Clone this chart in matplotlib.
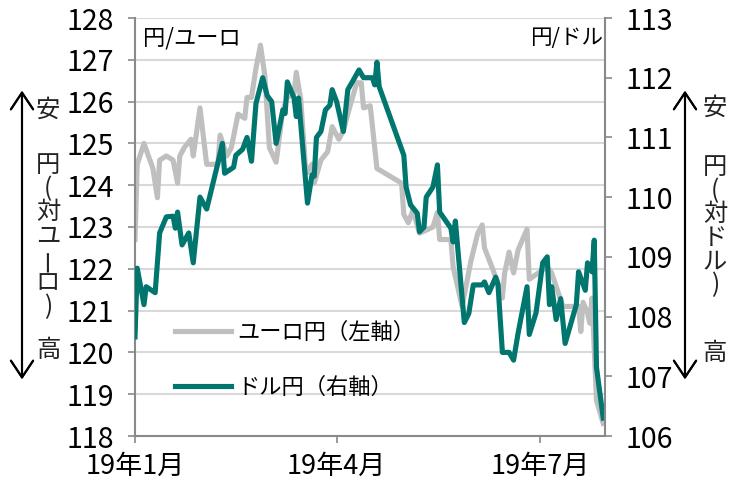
import pandas as pd
import matplotlib
matplotlib.use("Agg")
import matplotlib.pyplot as plt
import matplotlib.dates as mdates

plt.rcParams['font.family'] = ['Liberation Sans Narrow', 'Noto Sans CJK JP', 'DejaVu Sans']

# ユーロ円 (left axis)
eur_dates = ['01-01', '01-02', '01-05', '01-09', '01-11', '01-12', '01-15', '01-18', '01-20', '01-21',
             '01-23', '01-26', '01-27', '01-30', '02-02', '02-07', '02-08', '02-11', '02-13', '02-16',
             '02-19', '02-20', '02-22', '02-24', '02-26', '02-28', '03-02', '03-05', '03-08', '03-10',
             '03-13', '03-14', '03-16', '03-18', '03-19', '03-21', '03-22', '03-25', '03-28', '03-30',
             '04-02', '04-04', '04-07', '04-10', '04-12', '04-13', '04-16', '04-19', '04-30', '05-01',
             '05-03', '05-05', '05-08', '05-10', '05-14', '05-16', '05-17', '05-22', '05-23', '05-27',
             '05-29', '05-31', '06-03', '06-05', '06-06', '06-10', '06-14', '06-15', '06-17', '06-19',
             '06-21', '06-25', '06-26', '07-04', '07-06', '07-11', '07-18', '07-19', '07-20', '07-22',
             '07-23', '07-24', '07-26', '07-29']
eur_vals = [122.7, 124.5, 125.0, 124.4, 123.7, 124.6, 124.7, 124.6, 124.05, 124.7,
            124.9, 125.1, 124.7, 125.85, 124.5, 124.5, 125.2, 124.7, 124.9, 125.7,
            125.6, 126.1, 126.1, 126.8, 127.35, 126.6, 124.9, 124.55, 125.8, 126.1,
            126.2, 126.7, 126.05, 124.5, 124.3, 124.5, 124.05, 124.6, 124.8, 125.4,
            125.1, 125.3, 125.9, 126.45, 126.45, 125.85, 125.9, 124.4, 124.05, 123.3,
            123.1, 123.4, 122.85, 122.9, 123.0, 123.35, 122.7, 122.7, 122.05, 121.1,
            121.65, 122.2, 122.85, 123.05, 122.5, 121.95, 121.3, 121.9, 122.4, 121.9,
            122.45, 122.95, 121.75, 122.05, 121.9, 121.1, 121.1, 120.5, 121.2, 120.95,
            120.7, 121.3, 118.85, 118.3]

# ドル円 (right axis)
usd_dates = ['01-01', '01-02', '01-05', '01-06', '01-10', '01-12', '01-15', '01-18', '01-19', '01-20',
             '01-22', '01-25', '01-27', '01-30', '02-02', '02-07', '02-09', '02-10', '02-14', '02-15',
             '02-18', '02-20', '02-22', '02-24', '02-27', '03-01', '03-03', '03-05', '03-08', '03-09',
             '03-10', '03-13', '03-14', '03-15', '03-19', '03-21', '03-22', '03-23', '03-25', '03-27',
             '03-29', '03-30', '04-01', '04-04', '04-06', '04-08', '04-11', '04-13', '04-17', '04-18',
             '04-19', '04-20', '05-01', '05-02', '05-04', '05-07', '05-08', '05-10', '05-11', '05-14',
             '05-16', '05-17', '05-22', '05-23', '05-24', '05-28', '05-30', '06-01', '06-05', '06-06',
             '06-08', '06-11', '06-12', '06-14', '06-17', '06-19', '06-21', '06-25', '06-26', '06-29',
             '07-02', '07-04', '07-05', '07-06', '07-08', '07-10', '07-12', '07-17', '07-18', '07-21',
             '07-22', '07-24', '07-25', '07-26', '07-29']
usd_vals = [107.66, 108.81, 108.2, 108.5, 108.4, 109.4, 109.67, 109.68, 109.48, 109.75,
            109.2, 109.4, 108.9, 110.0, 109.8, 110.57, 110.9, 110.4, 110.5, 110.7,
            110.8, 111.0, 110.6, 111.57, 112.0, 111.7, 111.6, 110.9, 111.46, 111.4,
            111.93, 111.66, 111.35, 111.66, 109.9, 110.37, 110.35, 111.0, 111.1, 111.46,
            111.54, 111.8, 111.6, 111.1, 111.8, 111.93, 112.13, 112.0, 112.0, 111.88,
            112.26, 111.85, 110.7, 110.17, 109.87, 109.73, 109.42, 109.5, 110.0, 110.17,
            110.54, 109.75, 109.48, 109.25, 109.6, 107.9, 108.05, 108.53, 108.53, 108.58,
            108.4, 108.66, 108.55, 107.4, 107.4, 107.27, 107.72, 108.5, 107.7, 108.06,
            108.9, 109.0, 108.2, 108.5, 107.95, 108.3, 107.55, 108.2, 108.75, 108.44,
            108.9, 108.75, 109.28, 107.15, 106.3]

xtick_dates = ['2019-01-01', '2019-04-01', '2019-07-01']
xtick_labels = ['19年1月', '19年4月', '19年7月']

eur_x = pd.to_datetime(['2019-' + d for d in eur_dates])
usd_x = pd.to_datetime(['2019-' + d for d in usd_dates])

gray = '#bfbfbf'
teal = '#00766f'
axis_col = '#898989'

fig = plt.figure(figsize=(7.39, 4.82), dpi=100)
ax = fig.add_axes([135 / 739, 46 / 482, 470 / 739, 418 / 482])
ax2 = ax.twinx()

l1, = ax.plot(eur_x, eur_vals, color=gray, lw=3.7, solid_joinstyle='round')
l2, = ax2.plot(usd_x, usd_vals, color=teal, lw=3.7, solid_joinstyle='round')

x0 = mdates.date2num(pd.Timestamp('2019-01-01'))
ax.set_xlim(x0, x0 + 209.8)
ax.set_ylim(118, 128)
ax2.set_ylim(106, 113)
ax.set_yticks(range(118, 129))
ax2.set_yticks(range(106, 114))
ax.set_xticks(pd.to_datetime(xtick_dates))
ax.set_xticklabels(xtick_labels)

ax.yaxis.grid(True, color='#d9d9d9', lw=1.5)
ax.set_axisbelow(True)

for a in (ax, ax2):
    a.spines['top'].set_visible(False)
    for s in a.spines.values():
        s.set_color(axis_col)
        s.set_linewidth(1.5)
ax.spines['right'].set_visible(False)
ax2.spines['left'].set_visible(False)
ax2.spines['bottom'].set_visible(False)

ax.tick_params(axis='y', length=5, width=1.2, color=axis_col, labelsize=20.5, pad=10)
ax2.tick_params(axis='y', length=5, width=1.2, color=axis_col, labelsize=20.5, pad=10)
ax.tick_params(axis='x', length=5, width=1.2, color=axis_col, labelsize=19.5, pad=7)

ax.text(0.017, 0.952, '円/ユーロ', transform=ax.transAxes, fontsize=16, ha='left', va='center')
ax.text(0.996, 0.952, '円/ドル', transform=ax.transAxes, fontsize=15.5, ha='right', va='center')

ax2.legend([l1, l2], ['ユーロ円（左軸）', 'ドル円（右軸）'], loc='lower left',
           bbox_to_anchor=(0.085, 0.09), frameon=False, fontsize=16,
           handlelength=2.5, handletextpad=0.3, labelspacing=1.4,
           borderpad=0, borderaxespad=0)

# vertical side labels with arrows
arrow_style = '<->,head_length=0.6,head_width=0.4'
for xp in (22, 685):
    fig.add_artist(plt.annotate('', xy=(xp, 482 - 88), xytext=(xp, 482 - 382),
                                xycoords='figure pixels', textcoords='figure pixels',
                                arrowprops=dict(arrowstyle=arrow_style, lw=1.5, color='black',
                                                mutation_scale=20)))

side_fs = 17.5
side_col = '#222222'


def side_label(xp, chars, yc, top_y, bottom_y):
    fig.text(xp / 739, 1 - top_y / 482, '安', fontsize=side_fs, ha='center', va='center', color=side_col)
    fig.text(xp / 739, 1 - bottom_y / 482, '高', fontsize=side_fs, ha='center', va='center', color=side_col)
    t = fig.text(xp / 739, 1 - yc / 482, '\n'.join(chars), fontsize=side_fs, ha='center', va='center',
                 multialignment='center', linespacing=0.88, color=side_col)
    return t


side_label(48, ['円', '(', '対', 'ユ', '　', 'ロ', ')'], 236, 110, 350)
side_label(715, ['円', '(', '対', 'ド', 'ル', ')'], 226, 108, 353)

# the long-vowel mark of ユーロ stands upright in vertical writing
fig.canvas.draw()
lt = fig.texts[2]
bb = lt.get_window_extent()
n_lines = 7
y_bar = bb.y1 - (4 + 0.5) * bb.height / n_lines
fig.text(48 / 739, y_bar / 482, 'ー', fontsize=side_fs, ha='center', va='center',
         rotation=90, color=side_col)

fig.savefig('out.png', dpi=100)
